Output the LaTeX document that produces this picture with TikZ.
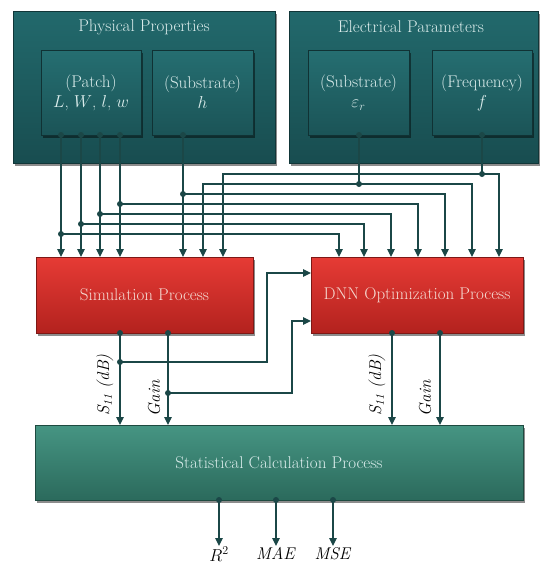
\documentclass[tikz,border=0pt]{standalone}
\usepackage{xcolor}
\definecolor{cTealTop}{HTML}{22696C}
\definecolor{cTealBot}{HTML}{184D50}
\definecolor{cParTop}{HTML}{256E71}
\definecolor{cParBot}{HTML}{1B5457}
\definecolor{cRedTop}{HTML}{E63B35}
\definecolor{cRedBot}{HTML}{B3221E}
\definecolor{cStatTop}{HTML}{469583}
\definecolor{cStatBot}{HTML}{2B6A5C}
\definecolor{cLine}{HTML}{1B4747}
\definecolor{cTxt}{HTML}{DAECEB}
\definecolor{cTxtRed}{HTML}{F5DAD2}
\usepackage{tikz}
\usetikzlibrary{arrows.meta,shadows,calc}
\tikzset{
  box-base/.style={inner sep=0pt,outer sep=0pt,align=center,
    drop shadow={shadow xshift=1.5pt,shadow yshift=-2.5pt,opacity=.45,fill=black}},
  box-group/.style={box-base,draw=cTealBot!70!black,top color=cTealTop,
    bottom color=cTealBot},
  box-param/.style={box-base,draw=cParBot!60!black,top color=cParTop,
    bottom color=cParBot,text=cTxt},
  box-proc/.style={box-base,draw=cRedBot!70!black,top color=cRedTop,
    bottom color=cRedBot,text=cTxtRed},
  box-stat/.style={box-base,draw=cStatBot!70!black,top color=cStatTop,
    bottom color=cStatBot,text=cTxt},
  title/.style={text=cTxt,inner sep=0pt},
  dot/.style={circle,fill=cLine,inner sep=0pt,minimum size=6pt},
  arrow/.style={-{Triangle[width=7.5pt,length=8pt]},line width=1.2pt,draw=cLine},
  link/.style={line width=1.2pt,draw=cLine},
  out-label/.style={text=black,inner sep=1pt},
}

\begin{document}
\begin{tikzpicture}[x=1pt,y=-1pt,font=\fontsize{17}{20}\selectfont]
  \useasboundingbox (0,0) rectangle (539,565);
  % input groups
  \node[box-group,minimum width=262pt,minimum height=152pt] (phys) at (144,87) {};
  \node[box-group,minimum width=249pt,minimum height=152pt] (elec) at (413.5,87) {};
  \node[title] (physT) at (144,27) {Physical Properties};
  \node[title] (elecT) at (411,27) {Electrical Parameters};
  \node[box-param,minimum width=100pt,minimum height=85pt] (patch) at (91,92.5)
    {(Patch)\\[0pt] $L$, $W$, $l$, $w$};
  \node[box-param,minimum width=101pt,minimum height=85pt] (subh) at (202.5,92.5)
    {(Substrate)\\[0pt] $h$};
  \node[box-param,minimum width=101pt,minimum height=85pt] (suber) at (358.5,92.5)
    {(Substrate)\\[0pt] $\varepsilon_r$};
  \node[box-param,minimum width=100pt,minimum height=85pt] (freq) at (482,92.5)
    {(Frequency)\\[0pt] $f$};
  % processes
  \node[box-proc,minimum width=217pt,minimum height=76pt] (sim) at (144.5,295)
    {Simulation Process};
  \node[box-proc,minimum width=212pt,minimum height=76pt] (dnn) at (417,295)
    {DNN Optimization Process};
  \node[box-stat,minimum width=488pt,minimum height=75pt] (stat) at (279,462.5)
    {Statistical Calculation Process};

  % outputs of the parameter boxes
  \coordinate (oL) at (61,135);
  \coordinate (oW) at (81,135);
  \coordinate (ol) at (100,135);
  \coordinate (ow) at (120,135);
  \coordinate (oh) at (183,135);
  \coordinate (oe) at (359,135);
  \coordinate (of) at (482,135);
  % branch points
  \coordinate (jf) at (482,174);
  \coordinate (je) at (359,184);
  \coordinate (jh) at (183,194);
  \coordinate (jw) at (120,204);
  \coordinate (jl) at (100,214);
  \coordinate (jW) at (81,224);
  \coordinate (jL) at (61,234);
  % inputs of the simulation / dnn boxes
  \coordinate (se) at (203,257);
  \coordinate (sf) at (223,257);
  \coordinate (dL) at (339,257);
  \coordinate (dW) at (364,257);
  \coordinate (dl) at (391,257);
  \coordinate (dw) at (418,257);
  \coordinate (dh) at (445,257);
  \coordinate (de) at (472,257);
  \coordinate (df) at (499,257);

  \foreach \p in {oL,oW,ol,ow,oh}
    \draw[arrow] (\p) -- (\p |- sim.north);
  \draw[link] (oe) -- (je);
  \draw[link] (of) -- (jf);
  \draw[arrow] (jf) -- (jf -| sf) -- (sf);
  \draw[arrow] (jf) -| (df);
  \draw[arrow] (je) -- (je -| se) -- (se);
  \draw[arrow] (je) -| (de);
  \draw[arrow] (jh) -| (dh);
  \draw[arrow] (jw) -| (dw);
  \draw[arrow] (jl) -| (dl);
  \draw[arrow] (jW) -| (dW);
  \draw[arrow] (jL) -| (dL);

  % simulation and dnn results
  \coordinate (sS) at (120,333);
  \coordinate (sG) at (168,333);
  \coordinate (nS) at (392,333);
  \coordinate (nG) at (440,333);
  \coordinate (bS) at (120,362);
  \coordinate (bG) at (168,393);
  \coordinate (dS) at (311,273);
  \coordinate (dG) at (311,321);
  \foreach \p in {sS,sG,nS,nG}
    \draw[arrow] (\p) -- (\p |- stat.north);
  \draw[arrow] (bS) -- ++(147,0) |- (dS);
  \draw[arrow] (bG) -- ++(124,0) |- (dG);
  \node[rotate=90,inner sep=0pt] (lS1) at (105,385) {\textit{S\textsubscript{11} (dB)}};
  \node[rotate=90,inner sep=0pt] (lG1) at (154,398) {\textit{Gain}};
  \node[rotate=90,inner sep=0pt] (lS2) at (377,385) {\textit{S\textsubscript{11} (dB)}};
  \node[rotate=90,inner sep=0pt] (lG2) at (425,398) {\textit{Gain}};

  % statistics
  \coordinate (oR) at (219,500);
  \coordinate (oA) at (276,500);
  \coordinate (oM) at (333,500);
  \node[out-label,anchor=north] (r2) at (219,546) {$R^2$};
  \node[out-label,anchor=north] (mae) at (276,546) {\textit{MAE}};
  \node[out-label,anchor=north] (mse) at (333,546) {\textit{MSE}};
  \draw[arrow] (oR) -- (r2);
  \draw[arrow] (oA) -- (mae);
  \draw[arrow] (oM) -- (mse);

  % junction dots on top of the lines
  \foreach \p in {oL,oW,ol,ow,oh,oe,of,jf,je,jh,jw,jl,jW,jL,
                  sS,sG,nS,nG,bS,bG,oR,oA,oM}
    \node[dot] at (\p) {};
\end{tikzpicture}
\end{document}
